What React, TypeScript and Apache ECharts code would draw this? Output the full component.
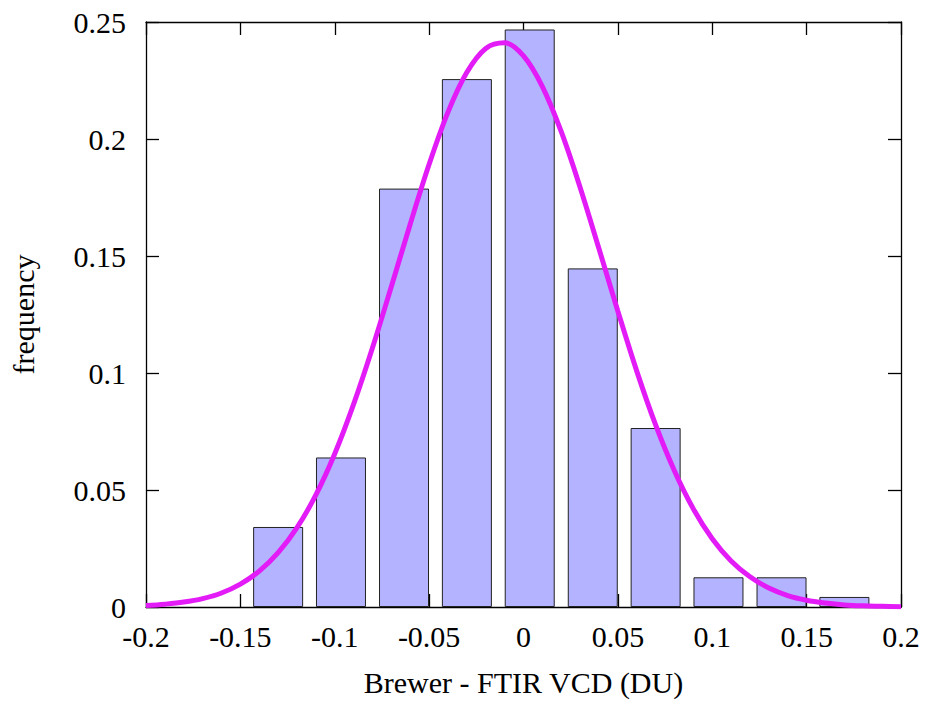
import React, { useEffect, useRef } from "react";
import * as echarts from "echarts";

// Histogram bins (centers) and frequencies
const binCenters = [-0.13, -0.0967, -0.0633, -0.03, 0.0033, 0.0367, 0.07, 0.1033, 0.1367, 0.17];
const frequencies = [0.0342, 0.0639, 0.1788, 0.2256, 0.2468, 0.1447, 0.0765, 0.0127, 0.0127, 0.0043];

// Fitted curve, points
const fitX = [
  -0.2, -0.19, -0.18, -0.17, -0.16, -0.15, -0.14, -0.13, -0.12, -0.11, -0.1,
  -0.09, -0.08, -0.07, -0.06, -0.05, -0.04, -0.03, -0.02, -0.01, 0,
  0.01, 0.02, 0.03, 0.04, 0.05, 0.06, 0.07, 0.08, 0.09, 0.1,
  0.11, 0.12, 0.13, 0.14, 0.15, 0.16, 0.17, 0.18, 0.19, 0.2,
];
const fitY = [
  0.0006, 0.0012, 0.0021, 0.0036, 0.006, 0.0098, 0.0153, 0.0232, 0.0339, 0.0479, 0.0655,
  0.0867, 0.1108, 0.137, 0.1637, 0.1892, 0.2115, 0.2285, 0.2387, 0.2411, 0.2355,
  0.2224, 0.2031, 0.1793, 0.1531, 0.1264, 0.1008, 0.0778, 0.0581, 0.0419, 0.0292,
  0.0197, 0.0129, 0.0081, 0.0049, 0.0029, 0.0017, 0.0009, 0.0005, 0.0003, 0.0001,
];

const xName = "Brewer - FTIR VCD (DU)";
const yName = "frequency";

export default function App() {
  const ref = useRef<HTMLDivElement>(null);
  useEffect(() => {
    const chart = echarts.init(ref.current!, null, { renderer: "svg" });
    const font = "Liberation Serif";
    const axisLine = { show: true, onZero: false, lineStyle: { color: "#000", width: 1.3 } };
    const axisTick = { show: true, inside: true, length: 13, lineStyle: { color: "#000", width: 1.3 } };
    const label = { fontFamily: font, fontSize: 30, color: "#000" };
    chart.setOption({
      animation: false,
      backgroundColor: "#fff",
      grid: { left: 146, right: 24, top: 22, bottom: 95 },
      xAxis: [
        {
          type: "value",
          min: -0.2,
          max: 0.2,
          interval: 0.05,
          position: "bottom",
          axisLine,
          axisTick,
          splitLine: { show: false },
          axisLabel: { ...label, margin: 14, showMinLabel: true, showMaxLabel: true },
          name: xName,
          nameLocation: "middle",
          nameGap: 60,
          nameTextStyle: { ...label },
        },
        {
          type: "value",
          min: -0.2,
          max: 0.2,
          interval: 0.05,
          position: "top",
          axisLine,
          axisTick,
          splitLine: { show: false },
          axisLabel: { show: false },
        },
      ],
      yAxis: [
        {
          type: "value",
          min: 0,
          max: 0.25,
          interval: 0.05,
          position: "left",
          axisLine,
          axisTick,
          splitLine: { show: false },
          axisLabel: { ...label, margin: 20 },
          name: yName,
          nameLocation: "middle",
          nameGap: 108,
          nameTextStyle: { ...label },
        },
        {
          type: "value",
          min: 0,
          max: 0.25,
          interval: 0.05,
          position: "right",
          axisLine,
          axisTick,
          splitLine: { show: false },
          axisLabel: { show: false },
        },
      ],
      series: [
        {
          type: "bar",
          xAxisIndex: 0,
          yAxisIndex: 0,
          data: binCenters.map((x, i) => [x, frequencies[i]]),
          barWidth: 50,
          itemStyle: { color: "#b3b3ff", borderColor: "#222", borderWidth: 1 },
          z: 2,
        },
        {
          type: "line",
          xAxisIndex: 0,
          yAxisIndex: 0,
          data: fitX.map((x, i) => [x, fitY[i]]),
          symbol: "none",
          smooth: 0.35,
          lineStyle: { color: "#e31cf7", width: 5 },
          z: 3,
        },
      ],
    });
    return () => chart.dispose();
  }, []);
  return (
    <div
      ref={ref}
      style={{ position: "fixed", left: 0, top: 0, width: 925, height: 702 }}
    />
  );
}
